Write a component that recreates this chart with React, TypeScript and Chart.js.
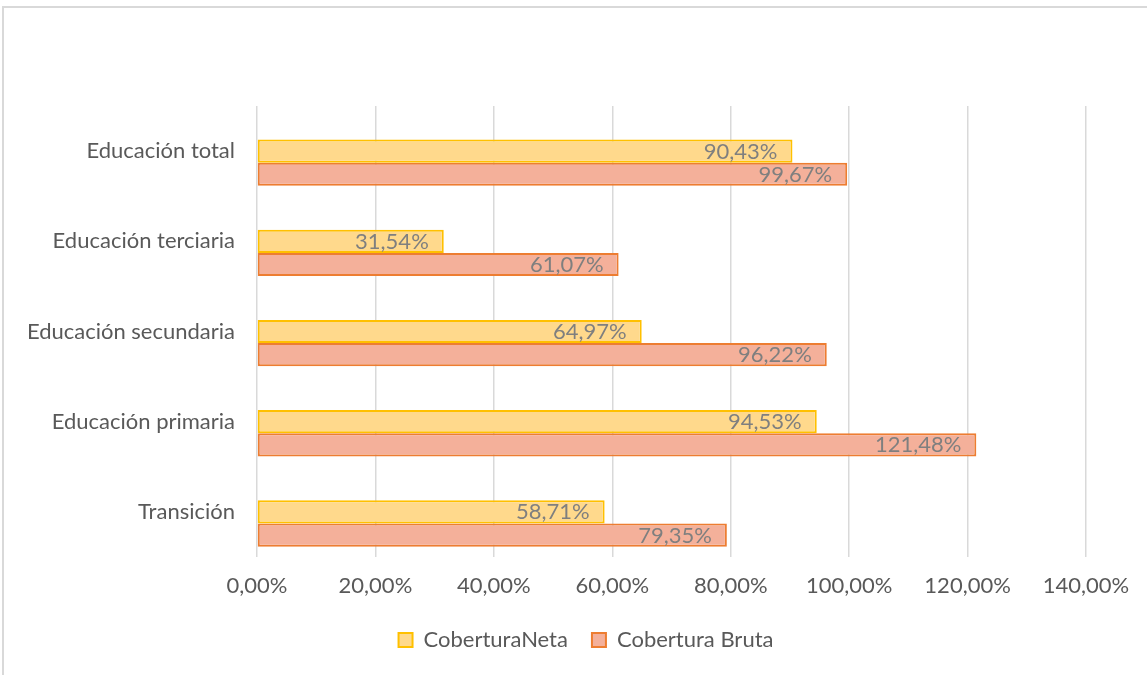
import React, { useEffect, useRef } from "react";
import { Chart, registerables } from "chart.js";

Chart.register(...registerables);

const categories = [
  "Educación total",
  "Educación terciaria",
  "Educación secundaria",
  "Educación primaria",
  "Transición",
];
const coberturaNeta = [90.43, 31.54, 64.97, 94.53, 58.71];
const coberturaBruta = [99.67, 61.07, 96.22, 121.48, 79.35];
const emptySlot = [null, null, null, null, null];
const seriesNames = ["CoberturaNeta", "Cobertura Bruta"];
const xMax = 140;
const xStep = 20;

const FONT = "Lato, 'Open Sans', sans-serif";
const FS = 22;
const fmt = (v: number) => v.toFixed(2).replace(".", ",") + "%";

const labelPlugin = {
  id: "barLabels",
  afterDatasetsDraw(chart: any) {
    const ctx = chart.ctx;
    ctx.save();
    ctx.font = `${FS}px ${FONT}`;
    ctx.fillStyle = "#7f7f7f";
    ctx.textAlign = "right";
    ctx.textBaseline = "middle";
    chart.data.datasets.forEach((ds: any, i: number) => {
      if (!ds.label) return;
      const meta = chart.getDatasetMeta(i);
      meta.data.forEach((bar: any, j: number) => {
        const v = ds.data[j];
        if (v == null) return;
        ctx.fillText(fmt(v), bar.x - 15, bar.y + 0.5);
      });
    });
    ctx.restore();
  },
};

const legendShift = {
  id: "legendShift",
  afterLayout(chart: any) {
    const lg = chart.legend;
    if (lg) {
      lg.left += 43;
      lg.right += 43;
    }
  },
};

export default function App() {
  const ref = useRef<HTMLCanvasElement | null>(null);
  useEffect(() => {
    if (!ref.current) return;
    const common = {
      borderWidth: 2,
      borderSkipped: false,
      categoryPercentage: 0.77,
      barPercentage: 1,
    };
    const chart = new Chart(ref.current, {
      type: "bar",
      data: {
        labels: categories,
        datasets: [
          { label: "", data: emptySlot, backgroundColor: "rgba(0,0,0,0)", ...common },
          {
            label: seriesNames[0],
            data: coberturaNeta,
            backgroundColor: "#FFD98C",
            borderColor: "#FFC000",
            ...common,
          },
          {
            label: seriesNames[1],
            data: coberturaBruta,
            backgroundColor: "#F4B09A",
            borderColor: "#ED7D31",
            ...common,
          },
        ],
      },
      options: {
        indexAxis: "y",
        animation: false,
        responsive: false,
        maintainAspectRatio: false,
        layout: { padding: { top: 106, right: 61, bottom: 14, left: 0 } },
        scales: {
          x: {
            min: 0,
            max: xMax,
            ticks: {
              stepSize: xStep,
              color: "#595959",
              font: { family: FONT, size: FS },
              padding: 16,
              callback: (v: any) => fmt(Number(v)),
            },
            grid: { color: "#d9d9d9", lineWidth: 1.5, drawTicks: false },
            border: { display: false },
            afterFit: (s: any) => {
              s.height = 48;
            },
          },
          y: {
            ticks: {
              color: "#595959",
              font: { family: FONT, size: FS },
              padding: 22,
            },
            grid: { display: false, drawTicks: false },
            border: { display: false },
            afterFit: (s: any) => {
              s.width = 257;
            },
          },
        },
        plugins: {
          legend: {
            position: "bottom",
            labels: {
              color: "#595959",
              font: { family: FONT, size: FS },
              boxWidth: 14,
              boxHeight: 14,
              padding: 24,
              generateLabels: (c: any) =>
                c.data.datasets
                  .map((ds: any, i: number) => ({
                    text: ds.label,
                    fillStyle: ds.backgroundColor,
                    strokeStyle: ds.borderColor,
                    lineWidth: 2,
                    fontColor: "#595959",
                    datasetIndex: i,
                    hidden: false,
                  }))
                  .filter((it: any) => it.text),
            },
          },
          tooltip: { enabled: false },
        },
      },
      plugins: [labelPlugin, legendShift],
    });
    return () => chart.destroy();
  }, []);

  return (
    <div style={{ position: "fixed", left: 0, top: 0, width: 1147, height: 675, background: "#fff" }}>
      <div
        style={{
          position: "absolute",
          left: 2,
          top: 6,
          width: 1160,
          height: 700,
          borderLeft: "2px solid #d9d9d9",
          borderTop: "2px solid #d9d9d9",
        }}
      />
      <canvas ref={ref} width={1147} height={675} style={{ position: "absolute", left: 0, top: 0 }} />
    </div>
  );
}
